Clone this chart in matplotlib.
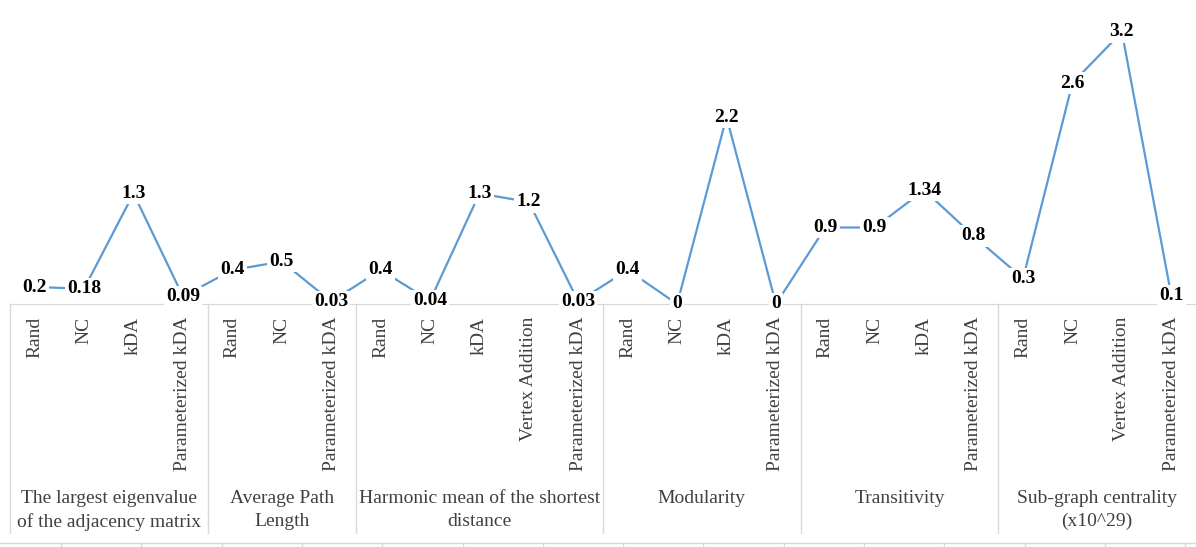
import numpy as np
import matplotlib.pyplot as plt
from matplotlib.lines import Line2D

plt.rcParams['font.family'] = ['Liberation Serif', 'DejaVu Serif']

groups = ["The largest eigenvalue\nof the adjacency matrix",
          "Average Path\nLength",
          "Harmonic mean of the shortest\ndistance",
          "Modularity",
          "Transitivity",
          "Sub-graph centrality\n(x10^29)"]
methods = [["Rand", "NC", "kDA", "Parameterized kDA"],
           ["Rand", "NC", "Parameterized kDA"],
           ["Rand", "NC", "kDA", "Vertex Addition", "Parameterized kDA"],
           ["Rand", "NC", "kDA", "Parameterized kDA"],
           ["Rand", "NC", "kDA", "Parameterized kDA"],
           ["Rand", "NC", "Vertex Addition", "Parameterized kDA"]]
values = [[0.2, 0.18, 1.3, 0.09],
          [0.4, 0.5, 0.03],
          [0.4, 0.04, 1.3, 1.2, 0.03],
          [0.4, 0, 2.2, 0],
          [0.9, 0.9, 1.34, 0.8],
          [0.3, 2.6, 3.2, 0.1]]

labels = [m for g in methods for m in g]
vals = [v for g in values for v in g]
x = np.arange(len(vals))

W, H = 1196, 547
fig = plt.figure(figsize=(W / 100, H / 100), dpi=100)
ax = fig.add_axes([10 / W, (H - 304) / H, 1186 / W, 297.5 / H])

line_color = '#5B9BD5'
grid_color = '#D9D9D9'
text_color = '#404040'

ax.plot(x, vals, color=line_color, lw=1.6, zorder=2)
for xi, v in zip(x, vals):
    ax.text(xi, v, f"{v:g}", ha='center', va='center', fontsize=14,
            fontweight='bold', color='black', zorder=3,
            bbox=dict(facecolor='white', edgecolor='none', pad=1.5))

ax.set_xlim(-0.5, len(vals) - 0.5)
ax.set_ylim(0, 3.5)
for s in ['top', 'right', 'left']:
    ax.spines[s].set_visible(False)
ax.spines['bottom'].set_color(grid_color)
ax.spines['bottom'].set_zorder(1)
ax.set_yticks([])
ax.set_xticks(x)
ax.set_xticklabels(labels, rotation=90, fontsize=14, color=text_color)
ax.tick_params(axis='x', length=0, pad=9)

# group separators and group labels
trans = ax.get_xaxis_transform()
bounds = np.cumsum([0] + [len(g) for g in methods]) - 0.5
sep_bottom = -(533 - 304) / 297.5
for b in bounds[:-1]:
    ax.plot([b, b], [0, sep_bottom], color=grid_color, lw=1,
            transform=trans, clip_on=False)
for i, name in enumerate(groups):
    xc = (bounds[i] + bounds[i + 1]) / 2
    ax.text(xc, -(490 - 304) / 297.5, name, transform=trans, ha='center',
            va='top', fontsize=14, color=text_color, linespacing=1.45,
            clip_on=False)

# bottom frame line with small ticks
fig.add_artist(Line2D([0, 1], [(H - 543) / H] * 2, transform=fig.transFigure,
                      color=grid_color, lw=1))
for tx in np.arange(61, W, 80.3):
    fig.add_artist(Line2D([tx / W] * 2, [(H - 543) / H, 0],
                          transform=fig.transFigure, color=grid_color, lw=1))

fig.savefig('out.png', dpi=100)
